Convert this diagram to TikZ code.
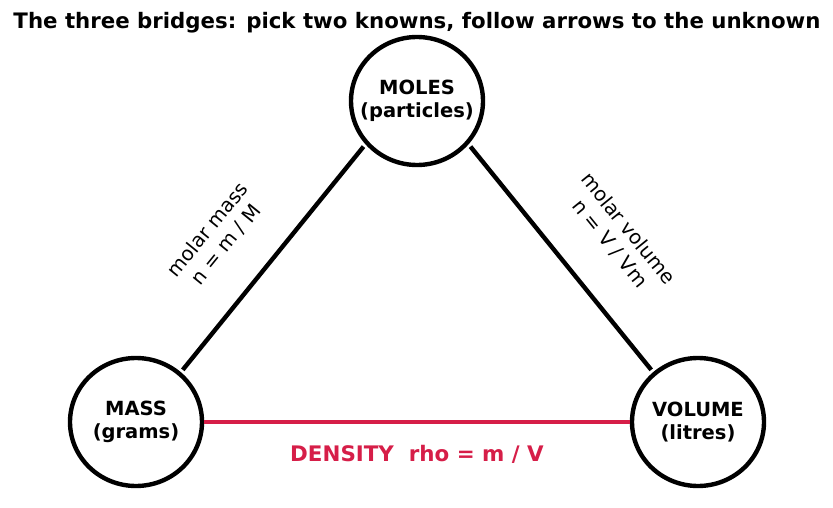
\documentclass[tikz,border=0pt]{standalone}
\usepackage{fontspec}
\usetikzlibrary{shapes.geometric}
\setmainfont{DejaVu Sans}
\definecolor{dens}{RGB}{214,30,72}
\begin{document}
\begin{tikzpicture}[x=1pt,y=-1pt,
  qty/.style={draw=black,line width=4.4pt,ellipse,minimum width=132pt,minimum height=128pt,inner xsep=-16pt,inner ysep=0pt,align=center,font=\bfseries\fontsize{19.5}{23}\selectfont},
  bridge/.style={line width=4.4pt,draw=black,shorten <=3pt,shorten >=3pt},
  blabel/.style={align=center,font=\fontsize{19.7}{23.5}\selectfont}]
\useasboundingbox (0,0) rectangle (833,508);
\node[font=\bfseries\fontsize{21.3}{25}\selectfont] (title) at (417,23) {The three bridges: pick two knowns, follow arrows to the unknown};
\node[qty] (moles) at (417,101) {MOLES\\(particles)};
\node[qty] (mass) at (136,422) {MASS\\(grams)};
\node[qty] (vol) at (698,422) {VOLUME\\(litres)};
\draw[bridge] (moles.220) -- (mass.48);
\draw[bridge] (moles.320) -- (vol.132);
\draw[line width=4.4pt,draw=dens] (mass) -- (vol);
\node[blabel,rotate=51] (lm) at (217,237) {molar mass\\n = m / M};
\node[blabel,rotate=-51] (lv) at (619,236) {molar volume\\n = V / Vm};
\node[text=dens,font=\bfseries\fontsize{21.4}{25}\selectfont] (dl) at (417,454) {DENSITY\ \ rho = m / V};
\end{tikzpicture}
\end{document}
